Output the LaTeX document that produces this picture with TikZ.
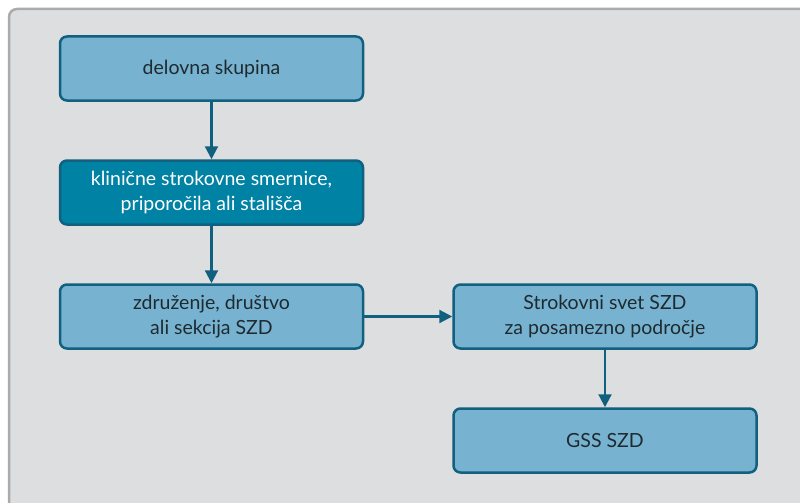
\documentclass[tikz,border=0pt]{standalone}
\usepackage{fontspec}
\setmainfont{Lato}
\usetikzlibrary{positioning,arrows.meta}
\definecolor{panel}{HTML}{DDDEE0}
\definecolor{panelrim}{HTML}{ABABAB}
\definecolor{boxfill}{HTML}{77B3D0}
\definecolor{boxdark}{HTML}{0082A4}
\definecolor{rim}{HTML}{12607F}
\definecolor{ink}{HTML}{1E2A30}
\begin{document}
\begin{tikzpicture}[
        x=1pt, y=-1pt,
        node distance=57.5pt and 88pt, % Расстояния между блоками
        stage/.style={draw=rim, line width=2.5pt, fill=boxfill, rounded corners=7pt,
                minimum width=303pt, minimum height=64pt, align=center,
                text=ink, font=\fontsize{19.5}{25}\selectfont},
        keystage/.style={stage, fill=boxdark, text=white},
        flow/.style={draw=rim, line width=2.2pt, -{Triangle[length=13pt,width=13pt]}},
    ]
    \useasboundingbox (0,0) rectangle (800,503);
    \draw[panelrim, fill=panel, line width=2.5pt, rounded corners=8pt] (9,9) rectangle (840,540);

    \node[stage] (group) at (211.5,68.5) {delovna skupina};
    \node[keystage, below=of group] (guide) {klinične strokovne smernice,\\priporočila ali stališča};
    \node[stage, below=of guide] (society) {združenje, društvo\\ali sekcija SZD};
    \node[stage, right=of society] (council) {Strokovni svet SZD\\za posamezno področje};
    \node[stage, below=of council] (gss) {GSS SZD};

    \draw[flow] (group) -- (guide);
    \draw[flow] (guide) -- (society);
    \draw[flow] (society) -- (council);
    \draw[flow] (council) -- (gss);
\end{tikzpicture}
\end{document}
